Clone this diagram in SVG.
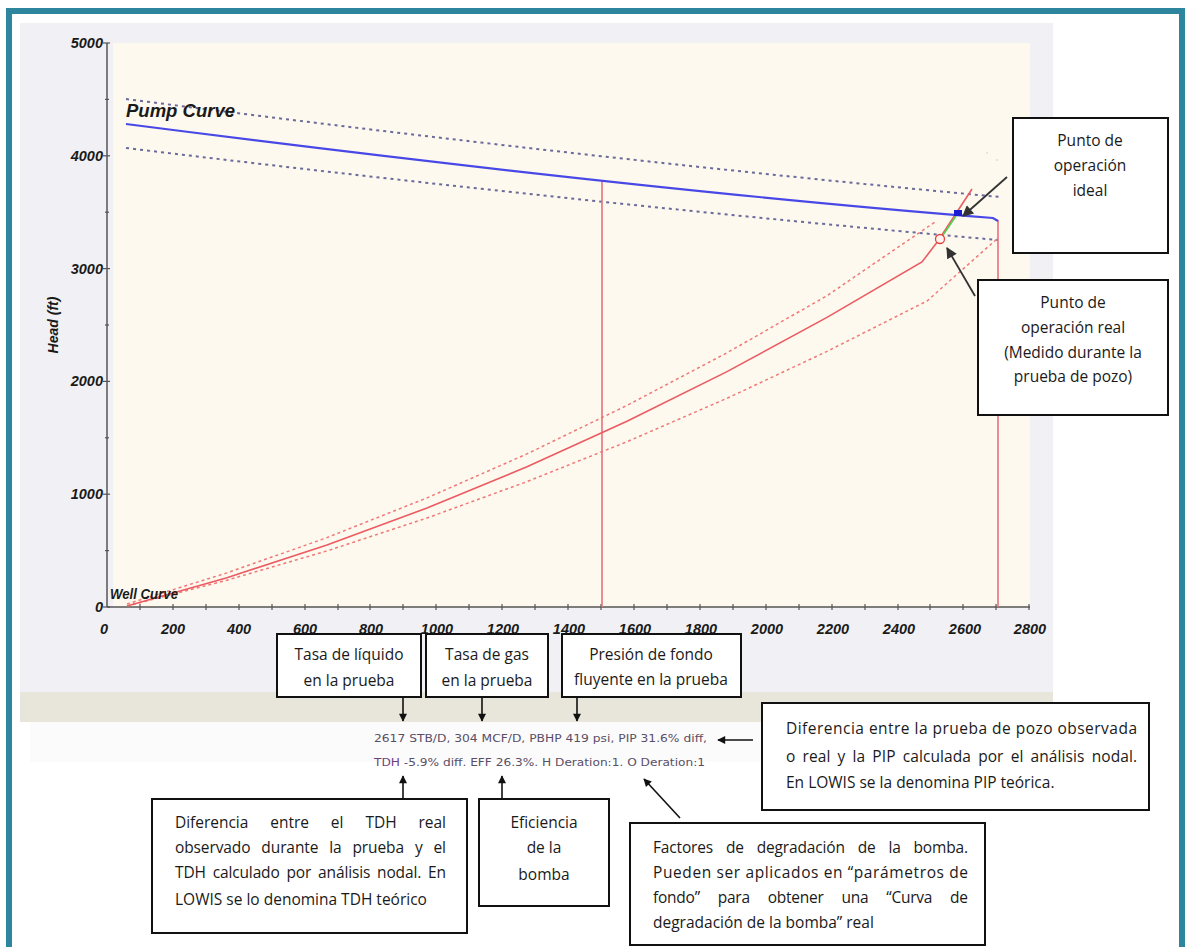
<svg xmlns="http://www.w3.org/2000/svg" width="1185" height="947" viewBox="0 0 1185 947">
<defs>
<style>
.ax{font-family:"Liberation Sans",Arial,sans-serif;font-weight:bold;font-style:italic;font-size:14.5px;fill:#1a1a1a}
.lbl{font-family:"Liberation Sans",Arial,sans-serif;font-weight:bold;font-style:italic;fill:#1a1a1a}
.t{font-family:"Open Sans","Liberation Sans",sans-serif;font-size:15.5px;fill:#1a1a1a}
.c{text-anchor:middle}
.e{text-anchor:end}
.box{fill:#ffffff;stroke:#111111;stroke-width:2}
.dat{font-family:"DejaVu Sans",Verdana,sans-serif;font-size:10.5px;fill:#5a4e66}
.arr{stroke:#111;stroke-width:1.6;fill:none}
.arrg{stroke:#333;stroke-width:1.8;fill:none}
</style>
<marker id="ah" viewBox="0 0 10 10" refX="9" refY="5" markerWidth="9" markerHeight="8" markerUnits="userSpaceOnUse" orient="auto"><path d="M0,0 L10,5 L0,10 z" fill="#111"/></marker>
<marker id="ahg" viewBox="0 0 10 10" refX="9" refY="5" markerWidth="15" markerHeight="11" markerUnits="userSpaceOnUse" orient="auto"><path d="M0,0 L10,5 L0,10 z" fill="#333"/></marker>
</defs>
<rect x="0" y="0" width="1185" height="947" fill="#ffffff"/>
<rect x="9" y="11" width="1173" height="945" fill="#ffffff" stroke="#2e869e" stroke-width="6"/>
<g id="chart">
<rect x="20" y="23" width="1033" height="670" fill="#f1f1f5"/>
<rect x="20" y="692" width="1033" height="30" fill="#e8e6da"/>
<rect x="30" y="722" width="1023" height="40" fill="#fbfbfb"/>
<rect x="113" y="43" width="917" height="564" fill="#fdf9ee"/>
<g stroke="#555" stroke-width="1.5">
<line x1="107" y1="43" x2="107" y2="607"/>
<line x1="107" y1="607" x2="1030" y2="607"/>
</g>
<g stroke="#555" stroke-width="1.2">
<line x1="103" y1="43" x2="110" y2="43"/><line x1="103" y1="155.8" x2="110" y2="155.8"/><line x1="103" y1="268.6" x2="110" y2="268.6"/><line x1="103" y1="381.4" x2="110" y2="381.4"/><line x1="103" y1="494.2" x2="110" y2="494.2"/><line x1="103" y1="607" x2="110" y2="607"/>
<line x1="105" y1="99.4" x2="109" y2="99.4"/><line x1="105" y1="212.2" x2="109" y2="212.2"/><line x1="105" y1="325" x2="109" y2="325"/><line x1="105" y1="437.8" x2="109" y2="437.8"/><line x1="105" y1="550.6" x2="109" y2="550.6"/>
<path d="M140,604v6M173,604v6M206,604v6M239,604v6M272,604v6M305,604v6M338,604v6M370,604v6M403,604v6M436,604v6M469,604v6M502,604v6M535,604v6M568,604v6M601,604v6M634,604v6M667,604v6M700,604v6M733,604v6M766,604v6M799,604v6M832,604v6M865,604v6M898,604v6M930,604v6M963,604v6M996,604v6M1029,604v6"/>
</g>
<g class="ax" text-anchor="end">
<text x="103" y="48">5000</text><text x="103" y="161">4000</text><text x="103" y="274">3000</text><text x="103" y="386">2000</text><text x="103" y="499">1000</text><text x="103" y="612">0</text>
</g>
<g class="ax" text-anchor="middle">
<text x="104" y="634">0</text><text x="173" y="634">200</text><text x="239" y="634">400</text><text x="305" y="634">600</text><text x="371" y="634">800</text><text x="437" y="634">1000</text><text x="503" y="634">1200</text><text x="569" y="634">1400</text><text x="635" y="634">1600</text><text x="701" y="634">1800</text><text x="767" y="634">2000</text><text x="833" y="634">2200</text><text x="899" y="634">2400</text><text x="965" y="634">2600</text><text x="1030" y="634">2800</text>
</g>
<text class="lbl" font-size="14" text-anchor="middle" transform="translate(58,325) rotate(-90)">Head (ft)</text>
<g fill="none">
<path d="M126,99 Q600,160 1000,197" stroke="#6b6b9b" stroke-width="2" stroke-dasharray="3,4"/>
<path d="M126,148 Q600,205 998,240" stroke="#6b6b9b" stroke-width="2" stroke-dasharray="3,4"/>
<path d="M127,604 L227,572.9 L327,537.6 L427,497.9 L527,453.9 L627,405.4 L727,352.8 L827,295.7 L935,222" stroke="#f07878" stroke-width="1.5" stroke-dasharray="3,3"/>
<path d="M127,606 L227,580.2 L327,550.9 L427,518 L527,481.6 L627,441.7 L727,398.3 L827,351.4 L927,301 L998,238" stroke="#f07878" stroke-width="1.5" stroke-dasharray="3,3"/>
<line x1="602" y1="180" x2="602" y2="607" stroke="#e8707a" stroke-width="1.6"/>
<line x1="998" y1="220" x2="998" y2="607" stroke="#e8707a" stroke-width="1.6"/>
<path d="M127,606 L227,577.7 L327,544.9 L427,508 L527,466.8 L627,421.3 L727,371.6 L827,317.4 L922,262 L938,241 L972,189" stroke="#ec5a62" stroke-width="1.6"/>
<path d="M126,124 Q640,190 993,218 L998,221" stroke="#4848e6" stroke-width="2.2"/>
<line x1="943" y1="235" x2="956" y2="216" stroke="#50d050" stroke-width="1.6"/>
</g>
<rect x="954" y="210" width="8" height="6" fill="#1c1cd0"/>
<circle cx="940" cy="239" r="4.5" fill="#fff4f0" stroke="#e04040" stroke-width="1.3"/>
<circle cx="987" cy="153" r="1" fill="#dddddd"/><circle cx="997" cy="160" r="1" fill="#dddddd"/>
<text class="lbl" x="126" y="117" font-size="18" textLength="109" lengthAdjust="spacingAndGlyphs">Pump Curve</text>
<text class="lbl" x="110" y="599" font-size="14" textLength="68" lengthAdjust="spacingAndGlyphs">Well Curve</text>
</g>
<g id="data-text">
<text class="dat" x="374" y="742" textLength="333" lengthAdjust="spacingAndGlyphs">2617 STB/D, 304 MCF/D, PBHP 419 psi, PIP 31.6% diff,</text>
<text class="dat" x="374" y="766" textLength="331" lengthAdjust="spacingAndGlyphs"><tspan fill="#6e3f80">TDH</tspan> -5.9% diff. EFF 26.3%. H Deration:1. O Deration:1</text>
</g>
<g id="connectors">
<line class="arrg" x1="1007" y1="177" x2="963" y2="216" marker-end="url(#ahg)"/>
<line class="arrg" x1="975" y1="296" x2="947" y2="248" marker-end="url(#ahg)"/>
<line class="arr" x1="403" y1="697" x2="403" y2="721" marker-end="url(#ah)"/>
<line class="arr" x1="482" y1="697" x2="482" y2="721" marker-end="url(#ah)"/>
<line class="arr" x1="577" y1="697" x2="577" y2="721" marker-end="url(#ah)"/>
<line class="arr" x1="753" y1="740" x2="718" y2="740" marker-end="url(#ah)"/>
<line class="arr" x1="403" y1="799" x2="403" y2="776" marker-end="url(#ah)"/>
<line class="arr" x1="502" y1="799" x2="502" y2="776" marker-end="url(#ah)"/>
<line class="arr" x1="680" y1="818" x2="644" y2="779" marker-end="url(#ah)"/>
</g>
<g id="box-ideal">
<rect class="box" x="1013" y="118" width="155" height="135"/>
<text class="t c" x="1090" y="146">Punto de</text>
<text class="t c" x="1090" y="171">operación</text>
<text class="t c" x="1090" y="196">ideal</text>
</g>
<g id="box-real">
<rect class="box" x="978" y="280" width="190" height="135"/>
<text class="t c" x="1073" y="308">Punto de</text>
<text class="t c" x="1073" y="333">operación real</text>
<text class="t c" x="1073" y="358">(Medido durante la</text>
<text class="t c" x="1073" y="382">prueba de pozo)</text>
</g>
<g id="box-liquido">
<rect class="box" x="277" y="634" width="144" height="63"/>
<text class="t c" x="349" y="660">Tasa de líquido</text>
<text class="t c" x="349" y="686">en la prueba</text>
</g>
<g id="box-gas">
<rect class="box" x="426" y="634" width="122" height="63"/>
<text class="t c" x="487" y="660">Tasa de gas</text>
<text class="t c" x="487" y="686">en la prueba</text>
</g>
<g id="box-presion">
<rect class="box" x="562" y="634" width="179" height="63"/>
<text class="t c" x="651" y="660">Presión de fondo</text>
<text class="t c" x="651" y="685">fluyente en la prueba</text>
</g>
<g id="box-pip">
<rect class="box" x="762" y="703" width="387" height="107"/>
<text class="t" x="786" y="734" textLength="351" lengthAdjust="spacing">Diferencia entre la prueba de pozo observada</text>
<text class="t" x="786" y="762" textLength="351" lengthAdjust="spacing" word-spacing="3">o real y la PIP calculada por el análisis nodal.</text>
<text class="t" x="786" y="788">En LOWIS se la denomina PIP teórica.</text>
</g>
<g id="box-tdh">
<rect class="box" x="152" y="799" width="315" height="134"/>
<text class="t" x="175" y="828" word-spacing="18" textLength="271" lengthAdjust="spacing">Diferencia entre el TDH real</text>
<text class="t" x="175" y="853" word-spacing="7" textLength="271" lengthAdjust="spacing">observado durante la prueba y el</text>
<text class="t" x="175" y="878" word-spacing="3" textLength="271" lengthAdjust="spacing">TDH calculado por análisis nodal. En</text>
<text class="t" x="175" y="905">LOWIS se lo denomina TDH teórico</text>
</g>
<g id="box-eficiencia">
<rect class="box" x="479" y="799" width="130" height="107"/>
<text class="t c" x="544" y="828">Eficiencia</text>
<text class="t c" x="544" y="853">de la</text>
<text class="t c" x="544" y="880">bomba</text>
</g>
<g id="box-factores">
<rect class="box" x="630" y="823" width="355" height="122"/>
<text class="t" x="653" y="853" word-spacing="9" textLength="315" lengthAdjust="spacing">Factores de degradación de la bomba.</text>
<text class="t" x="653" y="878" textLength="315" lengthAdjust="spacing">Pueden ser aplicados en “parámetros de</text>
<text class="t" x="653" y="903" word-spacing="14" textLength="315" lengthAdjust="spacing">fondo” para obtener una “Curva de</text>
<text class="t" x="653" y="928">degradación de la bomba” real</text>
</g>
</svg>
